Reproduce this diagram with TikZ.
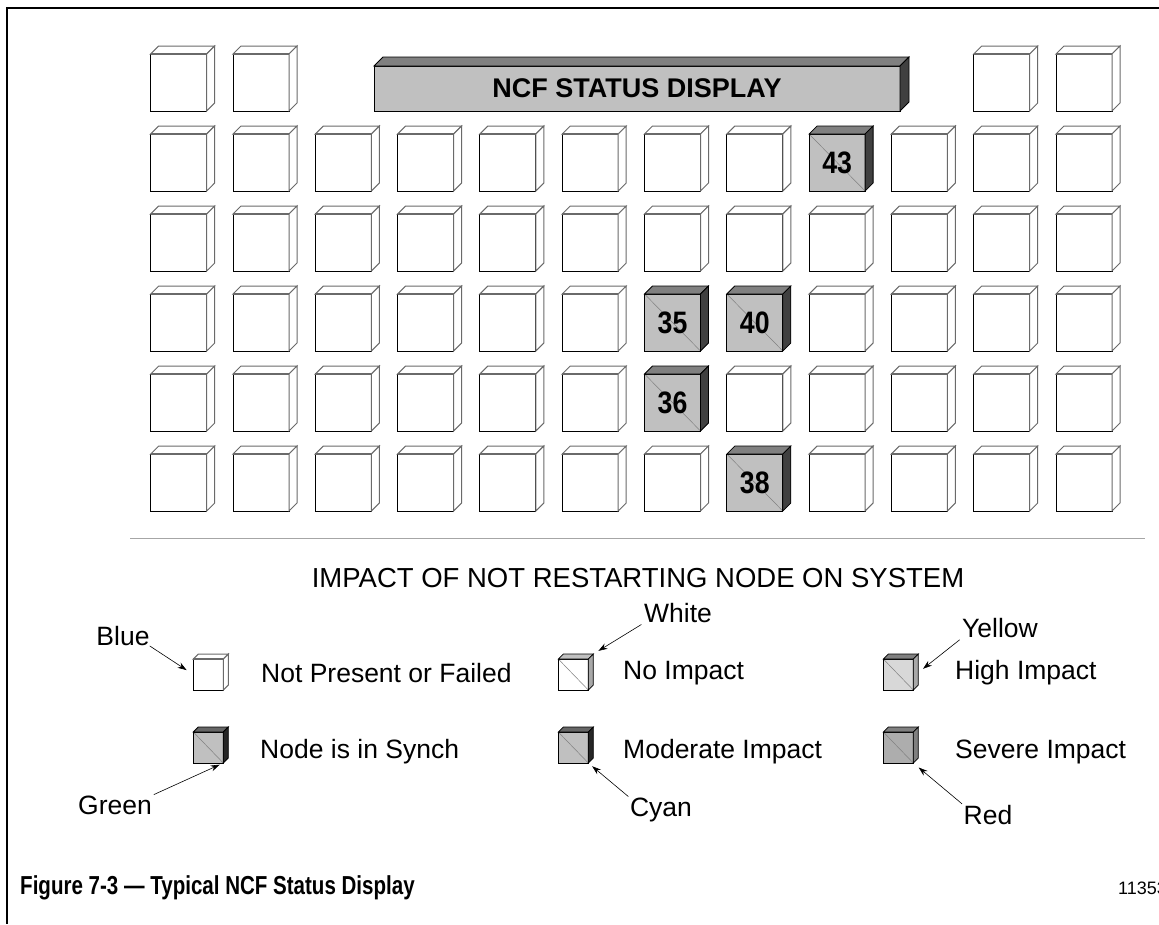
\documentclass[tikz,border=0pt]{standalone}
\usepackage{fontspec}
\setmainfont{Liberation Sans}
\usetikzlibrary{arrows.meta}
\definecolor{lgray}{HTML}{C0C0C0}
\definecolor{mgray}{HTML}{808080}
\definecolor{dgray}{HTML}{404040}
\definecolor{edgegray}{HTML}{6A6A6A}
\definecolor{ylw}{HTML}{D8D8D8}
\definecolor{sidegray}{HTML}{A8A8A8}
\newcommand{\cubefaces}[4]{%
  \path[#3] (#1.north west) -- ++(#2,-#2) -- ([shift={(#2,-#2)}]#1.north east) -- (#1.north east) -- cycle;
  \path[#4] (#1.north east) -- ++(#2,-#2) -- ([shift={(#2,-#2)}]#1.south east) -- (#1.south east) -- cycle;
}
\newcommand{\gx}[1]{150.7+(#1-1)*82.3}
\newcommand{\gy}[1]{54+#1*80}
\newcommand{\wbox}[2]{%
  \node[wfront] (g-#1-#2) at ({\gx{#2}},{\gy{#1}}) {};
  \cubefaces{g-#1-#2}{8}{wtop}{wside}
  \draw[wedge] (g-#1-#2.north west) -- (g-#1-#2.north east);
}
\newcommand{\cbox}[3]{%
  \node[wfront,cfront] (g-#1-#2) at ({\gx{#2}},{\gy{#1}}) {\scalebox{0.86}[1]{#3}};
  \cubefaces{g-#1-#2}{8}{ctop}{cside}
}
\expandafter\def\csname sp@1-9\endcsname{}
\expandafter\def\csname sp@3-7\endcsname{}
\expandafter\def\csname sp@3-8\endcsname{}
\expandafter\def\csname sp@4-7\endcsname{}
\expandafter\def\csname sp@5-8\endcsname{}
\tikzset{
  wfront/.style={draw=black, line width=0.9pt, fill=white, minimum width=56pt, minimum height=57pt,
    inner sep=0pt, outer sep=0pt, anchor=north west, font=\fontsize{31}{31}\selectfont\bfseries},
  wtop/.style={fill=white, draw=edgegray, line width=1pt},
  wside/.style={fill=white, draw=edgegray, line width=1pt},
  wedge/.style={draw=edgegray, line width=2.4pt},
  diagfill/.style={path picture={\draw[mgray, line width=0.5pt] (path picture bounding box.north west) -- (path picture bounding box.south east);}},
  cfront/.style={fill=lgray, diagfill},
  ctop/.style={fill=mgray, draw=black, line width=0.8pt},
  cside/.style={fill=dgray, draw=black, line width=0.8pt},
  lfront/.style={draw=black, line width=0.8pt, minimum width=30pt, minimum height=31pt,
    inner sep=0pt, outer sep=0pt, anchor=north west},
  lab/.style={font=\fontsize{26.5}{26.5}\selectfont, inner sep=0pt, text=black},
  arr/.style={-{Stealth[length=9pt,width=6pt]}, line width=0.6pt},
}
\begin{document}
\begin{tikzpicture}[x=1pt,y=-1pt]
\useasboundingbox (0,0) rectangle (1159,924);
% frame
\draw[line width=2.2pt] (1159,8) -- (7,8) -- (7,924);
% title bar
\node[draw=black, line width=0.9pt, fill=lgray, minimum width=526pt, minimum height=45pt, inner sep=0pt, outer sep=0pt,
  anchor=north west, font=\fontsize{27}{27}\selectfont\bfseries] (title) at (374,66) {NCF STATUS DISPLAY};
\cubefaces{title}{9}{ctop}{cside}
% row 0
\foreach \c in {1,2,11,12}{\wbox{0}{\c}}
% grid
\foreach \r in {1,...,5}{\foreach \c in {1,...,12}{%
  \ifcsname sp@\r-\c\endcsname\else\wbox{\r}{\c}\fi}}
\cbox{1}{9}{43}
\cbox{3}{7}{35}
\cbox{3}{8}{40}
\cbox{4}{7}{36}
\cbox{5}{8}{38}
% separator
\draw[gray!70, line width=0.9pt] (130,538) -- (1145,538);
\node[lab, font=\fontsize{27.5}{27.5}\selectfont] (impact) at (638,578) {IMPACT OF NOT RESTARTING NODE ON SYSTEM};
% legend boxes
\node[lfront, fill=white] (lblue) at (193.3,659) {};
\cubefaces{lblue}{5}{wtop}{wside}
\draw[wedge, line width=1.6pt] (lblue.north west) -- (lblue.north east);
\node[lfront, fill=white, diagfill] (lwhite) at (558.3,659) {};
\cubefaces{lwhite}{5}{fill=lgray, draw=black, line width=0.8pt}{fill=sidegray, draw=black, line width=0.8pt}
\node[lfront, fill=ylw, diagfill] (lyellow) at (883.3,659) {};
\cubefaces{lyellow}{5}{ctop}{fill=sidegray, draw=black, line width=0.8pt}
\node[lfront, fill=lgray, diagfill] (lgreen) at (193.3,732) {};
\cubefaces{lgreen}{5}{fill=dgray!80, draw=black, line width=0.8pt}{fill=black!85, draw=black, line width=0.8pt}
\node[lfront, fill=lgray, diagfill] (lcyan) at (558.3,732) {};
\cubefaces{lcyan}{5}{fill=dgray!80, draw=black, line width=0.8pt}{fill=black!85, draw=black, line width=0.8pt}
\node[lfront, fill=lgray!90!black, diagfill] (lred) at (883.3,732) {};
\cubefaces{lred}{5}{ctop}{fill=mgray, draw=black, line width=0.8pt}
% legend texts
\node[lab, anchor=west] (tblue) at (261,673) {Not Present or Failed};
\node[lab, anchor=west] (twhite) at (623,673) {No Impact};
\node[lab, anchor=west] (tyellow) at (955,673) {High Impact};
\node[lab, anchor=west] (tgreen) at (260,752) {Node is in Synch};
\node[lab, anchor=west] (tcyan) at (623,752) {Moderate Impact};
\node[lab, anchor=west] (tred) at (955,752) {Severe Impact};
% colour names
\node[lab] (nblue) at (123,636) {Blue};
\node[lab] (nwhite) at (678,613) {White};
\node[lab] (nyellow) at (1000,628) {Yellow};
\node[lab] (ngreen) at (115,805) {Green};
\node[lab] (ncyan) at (661,810) {Cyan};
\node[lab] (nred) at (988,815) {Red};
\draw[arr, shorten >=8pt] (nblue.south east) -- (lblue.west);
\draw[arr, shorten <=3pt, shorten >=6pt] (nwhite.south west) -- ([shift={(5,-5)}]lwhite.north east);
\draw[arr, shorten <=3pt, shorten >=6pt] (nyellow.south west) -- ([shift={(5,-2)}]lyellow.east);
\draw[arr, shorten <=2pt, shorten >=4pt] (ngreen.north east) -- (lgreen.south east);
\draw[arr, shorten <=2pt, shorten >=5pt] (ncyan.north west) -- (lcyan.south east);
\draw[arr, shorten <=2pt, shorten >=7pt] (nred.north west) -- (lred.south east);
% caption
\node[anchor=west, inner sep=0pt, font=\fontsize{26}{26}\selectfont\bfseries] (caption) at (20,888)
  {\scalebox{0.79}[1]{Figure 7-3 — Typical NCF Status Display}};
\node[anchor=west, inner sep=0pt, font=\fontsize{18}{18}\selectfont] (fignum) at (1118,888) {11353};
\end{tikzpicture}
\end{document}
